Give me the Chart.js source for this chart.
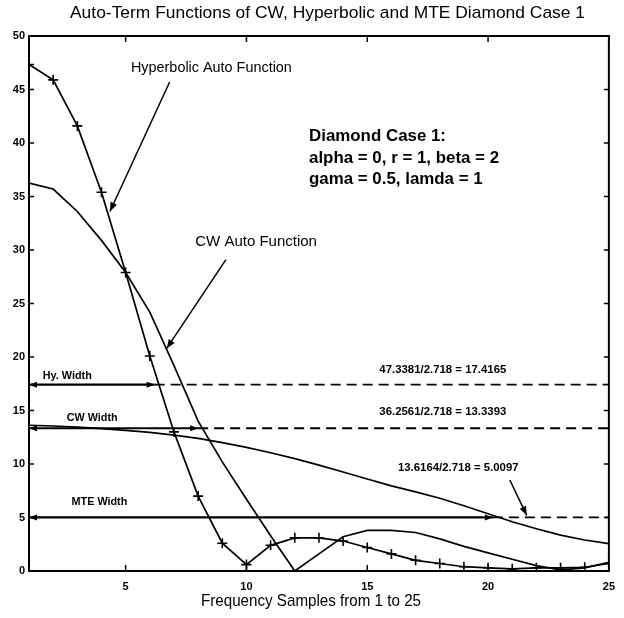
<!DOCTYPE html>
<html>
<head>
<meta charset="utf-8">
<script src="https://cdn.jsdelivr.net/npm/chart.js@4/dist/chart.umd.min.js"></script>
<style>
  html, body { margin: 0; padding: 0; background: #fff; }
  #wrap { width: 624px; height: 618px; position: relative; }
</style>
</head>
<body>
<div id="wrap"><canvas id="chart"></canvas></div>
<script>
// frequency samples 1..25
const samples = [1, 2, 3, 4, 5, 6, 7, 8, 9, 10, 11, 12, 13, 14, 15, 16, 17, 18, 19, 20, 21, 22, 23, 24, 25];

// auto-term functions
const hyperbolic = [47.34, 45.9, 41.6, 35.4, 27.9, 20.1, 13.0, 7.0, 2.6, 0.6, 2.4, 3.1, 3.1, 2.8, 2.2, 1.6, 1.0, 0.7, 0.4, 0.3, 0.2, 0.3, 0.3, 0.35, 0.7];
const cw = [36.26, 35.7, 33.6, 30.9, 27.9, 24.2, 19.2, 14.0, 10.2, 6.7, 3.3, 0.0, 1.6, 3.2, 3.8, 3.8, 3.6, 3.0, 2.3, 1.7, 1.1, 0.5, 0.1, 0.3, 0.8];
const mte = [13.62, 13.55, 13.45, 13.3, 13.15, 12.95, 12.7, 12.4, 12.0, 11.55, 11.05, 10.5, 9.9, 9.25, 8.6, 7.95, 7.4, 6.8, 6.1, 5.35, 4.6, 3.95, 3.35, 2.9, 2.55];

// half-width levels (peak / 2.718) and where each curve drops below them
const widthNames = ['Hy. Width', 'CW Width', 'MTE Width'];
const widthLevels = [17.4165, 13.3393, 5.0097];
const widthCross = [6.2, 8.0, 20.2];
const widthNotes = ['47.3381/2.718 = 17.4165', '36.2561/2.718 = 13.3393', '13.6164/2.718 = 5.0097'];

const xTicks = [5, 10, 15, 20, 25];
const yTicks = [0, 5, 10, 15, 20, 25, 30, 35, 40, 45, 50];

const caseLines = ['Diamond Case 1:', 'alpha = 0, r = 1, beta = 2', 'gama = 0.5, lamda = 1'];

const SANS = '"Liberation Sans", Arial, sans-serif';

const toPts = (ys) => samples.map((x, i) => ({ x, y: ys[i] }));

const datasets = [
  { label: 'Hyperbolic', data: toPts(hyperbolic), borderColor: '#000', borderWidth: 1.7,
    pointStyle: 'cross', pointRadius: 5, pointBorderWidth: 1.6, pointBorderColor: '#000', tension: 0 },
  { label: 'CW', data: toPts(cw), borderColor: '#000', borderWidth: 1.7, pointRadius: 0, tension: 0 },
  { label: 'MTE', data: toPts(mte), borderColor: '#000', borderWidth: 1.7, pointRadius: 0, tension: 0 }
];

widthLevels.forEach((lvl, i) => {
  // solid span from the axis to the crossing point
  datasets.push({ label: widthNames[i], data: [{ x: 1, y: lvl }, { x: widthCross[i], y: lvl }],
    borderColor: '#000', borderWidth: 2.2, pointRadius: 0 });
  // dashed remainder to the right edge
  datasets.push({ label: widthNames[i] + ' dash', data: [{ x: widthCross[i], y: lvl }, { x: 25, y: lvl }],
    borderColor: '#000', borderWidth: 1.8, borderDash: [10, 6], pointRadius: 0 });
});

function arrowHead(ctx, x1, y1, x2, y2, len, half) {
  const a = Math.atan2(y2 - y1, x2 - x1);
  ctx.beginPath();
  ctx.moveTo(x2, y2);
  ctx.lineTo(x2 - len * Math.cos(a) + half * Math.sin(a), y2 - len * Math.sin(a) - half * Math.cos(a));
  ctx.lineTo(x2 - len * Math.cos(a) - half * Math.sin(a), y2 - len * Math.sin(a) + half * Math.cos(a));
  ctx.closePath();
  ctx.fill();
}

function arrow(ctx, x1, y1, x2, y2) {
  ctx.beginPath();
  ctx.moveTo(x1, y1);
  ctx.lineTo(x2, y2);
  ctx.stroke();
  arrowHead(ctx, x1, y1, x2, y2, 9, 3.5);
}

// draw text squeezed horizontally by factor k (condensed look)
function squeezed(ctx, t, x, y, k) {
  ctx.save();
  ctx.translate(x, y);
  ctx.scale(k, 1);
  ctx.fillText(t, 0, 0);
  ctx.restore();
}

// factor that makes text t exactly w pixels wide in the current font
const fitK = (ctx, t, w) => w / ctx.measureText(t).width;

const decor = {
  id: 'decor',
  afterDatasetsDraw(chart) {
    const { ctx, chartArea: a, scales: { x, y } } = chart;
    const px = v => x.getPixelForValue(v);
    const py = v => y.getPixelForValue(v);
    ctx.save();
    ctx.strokeStyle = '#000';
    ctx.fillStyle = '#000';

    // frame
    ctx.lineWidth = 2;
    ctx.strokeRect(a.left, a.top, a.right - a.left, a.bottom - a.top);

    // inward tick marks on all four sides
    ctx.lineWidth = 1.5;
    ctx.beginPath();
    xTicks.forEach(v => {
      ctx.moveTo(px(v), a.bottom); ctx.lineTo(px(v), a.bottom - 6);
      ctx.moveTo(px(v), a.top); ctx.lineTo(px(v), a.top + 6);
    });
    yTicks.forEach(v => {
      ctx.moveTo(a.left, py(v)); ctx.lineTo(a.left + 5, py(v));
      ctx.moveTo(a.right, py(v)); ctx.lineTo(a.right - 5, py(v));
    });
    ctx.stroke();

    // width arrows: heads at both ends of the solid span
    widthLevels.forEach((lvl, i) => {
      const yy = py(lvl);
      arrowHead(ctx, px(widthCross[i]), yy, px(1), yy, 8, 3);
      arrowHead(ctx, px(1), yy, px(widthCross[i]), yy, 8, 3);
    });

    // pointer arrows
    ctx.lineWidth = 1.5;
    arrow(ctx, px(6.82), py(45.7), px(4.35), py(33.6));
    arrow(ctx, px(9.15), py(29.1), px(6.7), py(20.8));
    arrow(ctx, px(20.9), py(8.5), px(21.6), py(5.2));

    // labels
    ctx.textBaseline = 'middle';
    ctx.textAlign = 'left';
    ctx.font = '15px ' + SANS;
    squeezed(ctx, 'Hyperbolic Auto Function', px(5.22), py(47.0), 0.96);
    squeezed(ctx, 'CW Auto Function', px(7.88), py(30.8), 1.0);

    ctx.font = 'bold 17px ' + SANS;
    let k = fitK(ctx, caseLines[1], 190);
    caseLines.forEach((t, i) => squeezed(ctx, t, px(12.59), py(40.6 - i * 2.0), k));

    ctx.font = 'bold 10px ' + SANS;
    k = fitK(ctx, widthNames[0], 49);
    widthNames.forEach((t, i) => {
      const pos = [[1.57, 18.2], [2.56, 14.3], [2.76, 6.45]][i];
      squeezed(ctx, t, px(pos[0]), py(pos[1]), k);
    });

    ctx.font = 'bold 11px ' + SANS;
    k = fitK(ctx, widthNotes[0], 127);
    squeezed(ctx, widthNotes[0], px(15.5), py(18.8), k);
    squeezed(ctx, widthNotes[1], px(15.5), py(14.85), k);
    squeezed(ctx, widthNotes[2], px(16.27), py(9.63), k);

    // chart title and axis title
    ctx.font = '17px ' + SANS;
    const title = 'Auto-Term Functions of CW, Hyperbolic and MTE Diamond Case 1';
    squeezed(ctx, title, 70, 13, fitK(ctx, title, 515));
    ctx.font = '17px ' + SANS;
    const xTitle = 'Frequency Samples from 1 to 25';
    squeezed(ctx, xTitle, 201, 601, fitK(ctx, xTitle, 220));
    ctx.restore();
  }
};

new Chart(document.getElementById('chart'), {
  type: 'line',
  data: { datasets },
  options: {
    responsive: true,
    maintainAspectRatio: false,
    animation: false,
    layout: { padding: { top: 36, right: 9, left: 0, bottom: 0 } },
    plugins: { legend: { display: false }, tooltip: { enabled: false } },
    scales: {
      x: {
        type: 'linear', min: 1, max: 25,
        afterBuildTicks: s => { s.ticks = xTicks.map(v => ({ value: v })); },
        afterFit: s => { s.height = 47; },
        grid: { display: false, drawTicks: false },
        border: { display: false },
        ticks: { color: '#000', padding: 9, maxRotation: 0, font: { family: SANS, size: 11, weight: 'bold' } }
      },
      y: {
        type: 'linear', min: 0, max: 50,
        afterBuildTicks: s => { s.ticks = yTicks.map(v => ({ value: v })); },
        afterFit: s => { s.width = 29; },
        grid: { display: false, drawTicks: false },
        border: { display: false },
        ticks: { color: '#000', padding: 4, font: { family: SANS, size: 11, weight: 'bold' } }
      }
    }
  },
  plugins: [decor]
});
</script>
</body>
</html>
